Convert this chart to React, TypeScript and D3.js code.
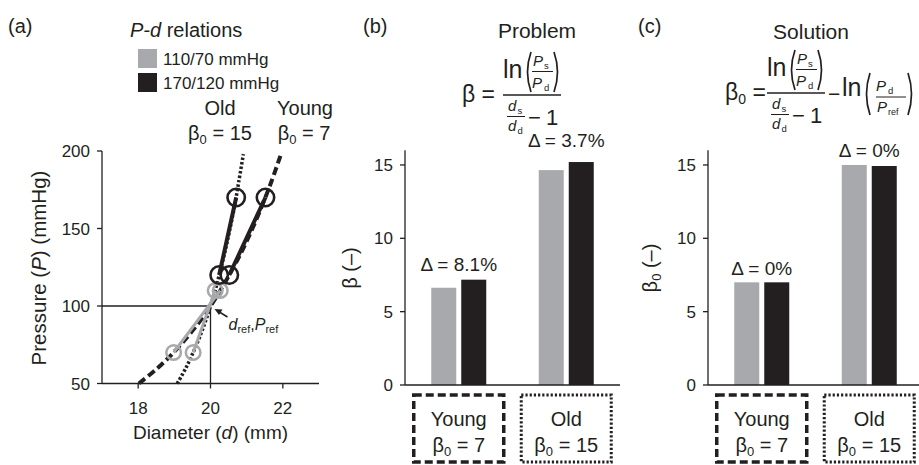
import React from "react";
import * as d3 from "d3";

const W = 919;
const H = 465;
const FONT = "'Liberation Sans', Arial, Helvetica, sans-serif";
const INK = "#231f20";
const GRAY = "#a7a9ac";

// ---------- Panel (a) data ----------
const pressureTicks = [50, 100, 150, 200];
const diameterTicks = [18, 20, 22];
const curvePressures = [50, 60, 70, 80, 90, 100, 110, 120, 135, 150, 165, 180, 198];
const youngCurveD = [18.02, 18.54, 18.98, 19.36, 19.7, 20.0, 20.27, 20.52, 20.86, 21.16, 21.43, 21.68, 21.95];
const oldCurveD = [19.08, 19.32, 19.52, 19.7, 19.86, 20.0, 20.13, 20.24, 20.4, 20.54, 20.67, 20.78, 20.91];
const grayP = [70, 110];
const grayYoungD = [18.98, 20.27];
const grayOldD = [19.52, 20.13];
const blackP = [120, 170];
const blackYoungD = [20.52, 21.52];
const blackOldD = [20.24, 20.71];
const refD = 20;
const refP = 100;
const legendLabels = ["110/70 mmHg", "170/120 mmHg"];

// ---------- Panels (b) and (c) data ----------
const groups = ["Young", "Old"];
const groupBeta0 = ["7", "15"];
const series = ["110/70", "170/120"];
const betaTicks = [0, 5, 10, 15];
const problemGray = [6.63, 14.65];
const problemBlack = [7.18, 15.2];
const solutionGray = [7.0, 15.0];
const solutionBlack = [7.0, 14.93];
const problemDelta = ["Δ = 8.1%", "Δ = 3.7%"];
const solutionDelta = ["Δ = 0%", "Δ = 0%"];

// ---------- layout ----------
const xA = d3.scaleLinear().domain([17, 23]).range([102, 319]);
const yA = d3.scaleLinear().domain([50, 200]).range([383.5, 151]);
const yBar = d3.scaleLinear().domain([0, 16]).range([385, 150.3]);

function Paren({ x, top, bottom, left }: any) {
  const mid = (top + bottom) / 2;
  const bulge = left ? x - 7 : x + 7;
  return (
    <path
      d={`M ${x} ${top} Q ${bulge} ${mid} ${x} ${bottom}`}
      fill="none"
      stroke={INK}
      strokeWidth={1.7}
    />
  );
}

function Formula({ x0, y0, solution }: any) {
  return (
    <g transform={`translate(${x0},${y0})`} fill={INK} fontFamily={FONT}>
      {solution ? (
        <text x={-42} y={7} fontSize={23}>
          β<tspan fontSize={14} dy={4}>0</tspan>
          <tspan dy={-4}> =</tspan>
        </text>
      ) : (
        <text x={-41} y={7} fontSize={23}>β =</text>
      )}
      {/* numerator */}
      <text x={0} y={-17} fontSize={25}>ln</text>
      <Paren x={28} top={-43} bottom={-3} left />
      <text x={30} y={-29} fontSize={15} fontStyle="italic">P</text>
      <text x={41} y={-26} fontSize={9.5}>s</text>
      <line x1={29} x2={50} y1={-23.5} y2={-23.5} stroke={INK} strokeWidth={1} />
      <text x={29} y={-7} fontSize={15} fontStyle="italic">P</text>
      <text x={41} y={-4.5} fontSize={9.5}>d</text>
      <Paren x={51} top={-43} bottom={-3} left={false} />
      {/* main bar */}
      <line x1={0} x2={58} y1={0} y2={0} stroke={INK} strokeWidth={1.3} />
      {/* denominator */}
      <text x={5} y={16} fontSize={15} fontStyle="italic">d</text>
      <text x={14.5} y={18.5} fontSize={9.5}>s</text>
      <line x1={4} x2={22} y1={21.5} y2={21.5} stroke={INK} strokeWidth={1} />
      <text x={5} y={36} fontSize={15} fontStyle="italic">d</text>
      <text x={14.5} y={38.5} fontSize={9.5}>d</text>
      <text x={25} y={30} fontSize={22}>−</text>
      <text x={43} y={30} fontSize={22}>1</text>
      {solution && (
        <>
          <text x={61} y={8} fontSize={21}>−</text>
          <text x={75} y={3} fontSize={25}>ln</text>
          <Paren x={103} top={-20} bottom={22} left />
          <text x={109} y={-2} fontSize={15} fontStyle="italic">P</text>
          <text x={121} y={0.5} fontSize={9.5}>d</text>
          <line x1={109} x2={139} y1={4} y2={4} stroke={INK} strokeWidth={1} />
          <text x={110} y={19} fontSize={15} fontStyle="italic">P</text>
          <text x={121} y={21.5} fontSize={9}>ref</text>
          <Paren x={141} top={-20} bottom={22} left={false} />
        </>
      )}
    </g>
  );
}

function BarPanel({ axisX, grayVals, blackVals, deltas, deltaOffsets, yLabelX, sol }: any) {
  const xB = d3.scaleBand<string>().domain(groups).range([axisX, axisX + 215]).paddingInner(0.4).paddingOuter(0.2);
  const inner = d3.scaleBand<string>().domain(series).range([0, 55]).paddingInner(1 / 6);
  const vals = [grayVals, blackVals];
  const colors = [GRAY, INK];
  const boxW = 90;
  return (
    <g fontFamily={FONT} fill={INK}>
      {groups.map((g, gi) => {
        const c = (xB(g) as number) + xB.bandwidth() / 2;
        const maxV = Math.max(grayVals[gi], blackVals[gi]);
        return (
          <g key={g}>
            {series.map((s, si) => (
              <rect
                key={s}
                x={c - 27.5 + (inner(s) as number)}
                y={yBar(vals[si][gi])}
                width={inner.bandwidth()}
                height={yBar(0) - yBar(vals[si][gi])}
                fill={colors[si]}
              />
            ))}
            <text x={c} y={yBar(maxV) - deltaOffsets[gi]} fontSize={19} textAnchor="middle">
              {deltas[gi]}
            </text>
            <rect
              x={c - boxW / 2}
              y={395}
              width={boxW}
              height={67}
              fill="none"
              stroke={INK}
              strokeWidth={gi === 0 ? 3.5 : 3}
              strokeDasharray={gi === 0 ? "8 4" : "2.2 2"}
            />
            <text x={c} y={426} fontSize={20} textAnchor="middle">{g}</text>
            <text x={c} y={452} fontSize={20} textAnchor="middle">
              β<tspan fontSize={13} dy={4}>0</tspan>
              <tspan dy={-4}> = {groupBeta0[gi]}</tspan>
            </text>
          </g>
        );
      })}
      {/* axes */}
      <line x1={axisX} x2={axisX} y1={yBar(16)} y2={yBar(0)} stroke={INK} strokeWidth={1.3} />
      <line x1={axisX} x2={axisX + 215} y1={yBar(0)} y2={yBar(0)} stroke={INK} strokeWidth={1.3} />
      {betaTicks.map((t) => (
        <g key={t}>
          <line x1={axisX - 5} x2={axisX} y1={yBar(t)} y2={yBar(t)} stroke={INK} strokeWidth={1.3} />
          <text x={axisX - 12} y={yBar(t) + 6} fontSize={17} textAnchor="end">{t}</text>
        </g>
      ))}
      <text transform={`translate(${yLabelX},268) rotate(-90)`} fontSize={20} textAnchor="middle">
        β{sol ? <tspan fontSize={13} dy={4}>0</tspan> : null}
        <tspan dy={sol ? -4 : 0}> (–)</tspan>
      </text>
    </g>
  );
}

export default function App() {
  const line = d3
    .line<[number, number]>()
    .x((d) => xA(d[0]))
    .y((d) => yA(d[1]))
    .curve(d3.curveCatmullRom);
  const straight = d3
    .line<[number, number]>()
    .x((d) => xA(d[0]))
    .y((d) => yA(d[1]));
  const youngCurve = curvePressures.map((p, i) => [youngCurveD[i], p] as [number, number]);
  const oldCurve = curvePressures.map((p, i) => [oldCurveD[i], p] as [number, number]);
  const grayYoung = grayP.map((p, i) => [grayYoungD[i], p] as [number, number]);
  const grayOld = grayP.map((p, i) => [grayOldD[i], p] as [number, number]);
  const blackYoung = blackP.map((p, i) => [blackYoungD[i], p] as [number, number]);
  const blackOld = blackP.map((p, i) => [blackOldD[i], p] as [number, number]);
  const rx = xA(refD);
  const ry = yA(refP);

  return (
    <div style={{ position: "absolute", left: 0, top: 0 }}>
      <svg width={W} height={H} viewBox={`0 0 ${W} ${H}`} style={{ display: "block", background: "#fff" }}>
        <g fontFamily={FONT} fill={INK}>
          {/* ===== Panel (a) ===== */}
          <text x={8} y={33} fontSize={20}>(a)</text>
          <text x={130} y={37} fontSize={20}>
            <tspan fontStyle="italic">P-d</tspan> relations
          </text>
          {legendLabels.map((l, i) => (
            <g key={l}>
              <rect x={138} y={49 + i * 24} width={19} height={19} fill={i === 0 ? GRAY : INK} />
              <text x={163} y={65 + i * 23.5} fontSize={17}>{l}</text>
            </g>
          ))}
          <text x={220} y={115} fontSize={20} textAnchor="middle">Old</text>
          <text x={220} y={140} fontSize={20} textAnchor="middle">
            β<tspan fontSize={13} dy={4}>0</tspan>
            <tspan dy={-4}> = 15</tspan>
          </text>
          <text x={305} y={115} fontSize={20} textAnchor="middle">Young</text>
          <text x={304} y={140} fontSize={20} textAnchor="middle">
            β<tspan fontSize={13} dy={4}>0</tspan>
            <tspan dy={-4}> = 7</tspan>
          </text>

          {/* axes */}
          <line x1={xA(17)} x2={xA(17)} y1={yA(200)} y2={yA(50)} stroke={INK} strokeWidth={1.3} />
          <line x1={xA(17)} x2={xA(23)} y1={yA(50)} y2={yA(50)} stroke={INK} strokeWidth={1.3} />
          {pressureTicks.map((t) => (
            <g key={t}>
              <line x1={xA(17) - 5} x2={xA(17)} y1={yA(t)} y2={yA(t)} stroke={INK} strokeWidth={1.3} />
              <text x={xA(17) - 12} y={yA(t) + 6} fontSize={17} textAnchor="end">{t}</text>
            </g>
          ))}
          {diameterTicks.map((t) => (
            <g key={t}>
              <line x1={xA(t)} x2={xA(t)} y1={yA(50)} y2={yA(50) + 5} stroke={INK} strokeWidth={1.3} />
              <text x={xA(t)} y={414} fontSize={17} textAnchor="middle">{t}</text>
            </g>
          ))}
          <text x={(xA(17) + xA(23)) / 2} y={439} fontSize={19} textAnchor="middle">
            Diameter (<tspan fontStyle="italic">d</tspan>) (mm)
          </text>
          <text transform="translate(46,268) rotate(-90)" fontSize={20.5} textAnchor="middle">
            Pressure (<tspan fontStyle="italic">P</tspan>) (mmHg)
          </text>

          {/* reference lines */}
          <line x1={xA(17)} x2={rx} y1={ry} y2={ry} stroke={INK} strokeWidth={1.3} />
          <line x1={rx} x2={rx} y1={ry} y2={yA(50)} stroke={INK} strokeWidth={1.3} />

          {/* model curves */}
          <path d={line(youngCurve) || ""} fill="none" stroke={INK} strokeWidth={4} strokeDasharray="8 4" />
          <path d={line(oldCurve) || ""} fill="none" stroke={INK} strokeWidth={3.5} strokeDasharray="2.5 2" />

          {/* measured pairs */}
          {[grayYoung, grayOld].map((pts, i) => (
            <g key={"g" + i}>
              <path d={straight(pts) || ""} fill="none" stroke={GRAY} strokeWidth={3} />
              {pts.map((p, j) => (
                <circle key={j} cx={xA(p[0])} cy={yA(p[1])} r={7.3} fill="none" stroke={GRAY} strokeWidth={2.5} />
              ))}
            </g>
          ))}
          {[blackYoung, blackOld].map((pts, i) => (
            <g key={"b" + i}>
              <path d={straight(pts) || ""} fill="none" stroke={INK} strokeWidth={4} />
              {pts.map((p, j) => (
                <circle key={j} cx={xA(p[0])} cy={yA(p[1])} r={8.7} fill="none" stroke={INK} strokeWidth={2.6} />
              ))}
            </g>
          ))}

          {/* reference annotation */}
          <line x1={rx + 17} x2={rx + 8} y1={ry + 11} y2={ry + 5.5} stroke={INK} strokeWidth={1.5} />
          <path d={`M ${rx + 4} ${ry + 3} L ${rx + 12} ${ry + 3.5} L ${rx + 8.5} ${ry + 9} Z`} fill={INK} />
          <text x={rx + 18} y={ry + 24} fontSize={16}>
            <tspan fontStyle="italic">d</tspan>
            <tspan fontSize={11} dy={3}>ref</tspan>
            <tspan dy={-3}>,</tspan>
            <tspan fontStyle="italic">P</tspan>
            <tspan fontSize={11} dy={3}>ref</tspan>
          </text>

          {/* ===== Panel (b) ===== */}
          <text x={363} y={33} fontSize={20}>(b)</text>
          <text x={537} y={38} fontSize={21} textAnchor="middle">Problem</text>
          <Formula x0={503} y0={95} solution={false} />
          <BarPanel axisX={405} grayVals={problemGray} blackVals={problemBlack} deltas={problemDelta} deltaOffsets={[9, 15]} yLabelX={357} sol={false} />

          {/* ===== Panel (c) ===== */}
          <text x={638} y={33} fontSize={20}>(c)</text>
          <text x={811} y={39} fontSize={21} textAnchor="middle">Solution</text>
          <Formula x0={767} y0={93} solution />
          <BarPanel axisX={708} grayVals={solutionGray} blackVals={solutionBlack} deltas={solutionDelta} deltaOffsets={[7, 8]} yLabelX={657} sol />
        </g>
      </svg>
    </div>
  );
}
